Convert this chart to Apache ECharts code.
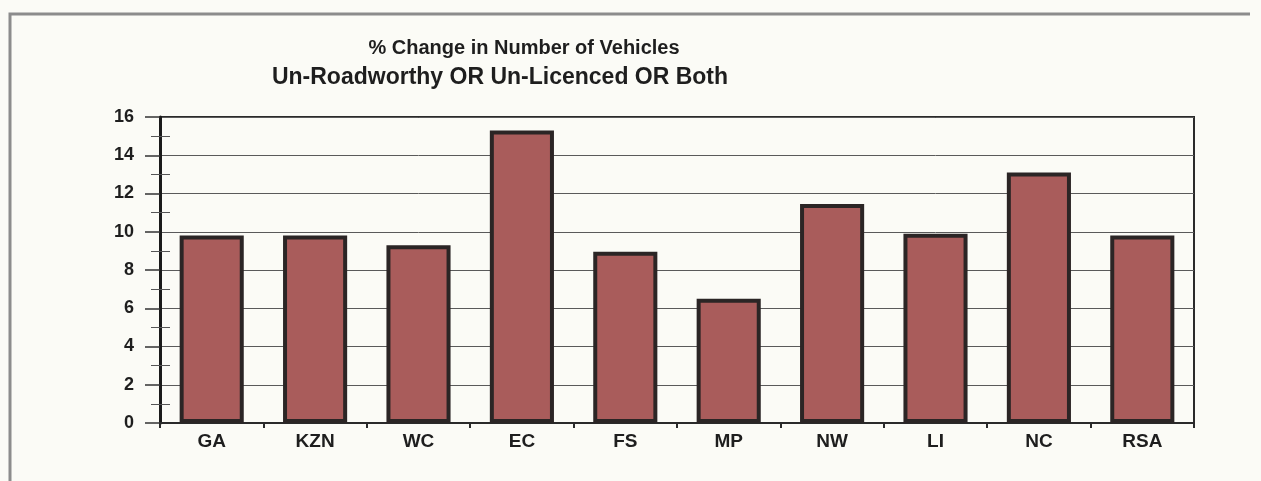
<!DOCTYPE html>
<html>
<head>
<meta charset="utf-8">
<script src="https://cdn.jsdelivr.net/npm/echarts@6/dist/echarts.min.js"></script>
<style>
  html, body { margin: 0; padding: 0; background: #fbfbf6; }
  #chart { width: 1261px; height: 481px; }
</style>
</head>
<body>
<div id="chart"></div>
<script>
// provinces and % change values
var regions = ['GA', 'KZN', 'WC', 'EC', 'FS', 'MP', 'NW', 'LI', 'NC', 'RSA'];
var pctChange = [9.8, 9.8, 9.3, 15.3, 8.95, 6.5, 11.45, 9.9, 13.1, 9.8];
var yMin = 0, yMax = 16, yStep = 2;

var font = '"Liberation Sans", Arial, sans-serif';
var chart = echarts.init(document.getElementById('chart'));

chart.setOption({
  backgroundColor: '#fbfbf6',
  animation: false,
  title: [
    {
      text: '% Change in Number of Vehicles',
      left: 519, top: 33, textAlign: 'center',
      textStyle: { fontFamily: font, fontWeight: 'bold', fontSize: 20, color: '#1e1e1e' }
    },
    {
      text: 'Un-Roadworthy OR Un-Licenced OR Both',
      left: 495, top: 61, textAlign: 'center',
      textStyle: { fontFamily: font, fontWeight: 'bold', fontSize: 23, color: '#1e1e1e' }
    }
  ],
  // scanned frame around the chart
  graphic: [{
    type: 'polyline',
    shape: { points: [[10, 481], [10, 14], [1250, 14]] },
    style: { stroke: '#8c8c8c', lineWidth: 3, fill: null }
  }],
  grid: {
    left: 160, right: 67, top: 117, bottom: 58,
    show: true, borderColor: '#2a2a2a', borderWidth: 2,
    backgroundColor: 'transparent'
  },
  xAxis: {
    type: 'category',
    data: regions,
    axisLine: { lineStyle: { color: '#2a2a2a', width: 2 } },
    axisTick: { show: true, length: 5, lineStyle: { color: '#2a2a2a', width: 2 } },
    axisLabel: { fontFamily: font, fontWeight: 'bold', fontSize: 19, color: '#1e1e1e', margin: 9 }
  },
  yAxis: [
    {
      type: 'value', min: yMin, max: yMax, interval: yStep,
      axisLine: { show: true, lineStyle: { color: '#1a1a1a', width: 3 } },
      axisTick: { show: true, length: 15, lineStyle: { color: '#333', width: 1.5 } },
      minorTick: { show: true, splitNumber: 2, length: 9, lineStyle: { color: '#555', width: 1 } },
      splitLine: { show: true, lineStyle: { color: '#5a5a5a', width: 1 } },
      axisLabel: { fontFamily: font, fontWeight: 'bold', fontSize: 18, color: '#1e1e1e', margin: 26 }
    },
    {
      // second axis on the same spot: minor ticks on the inside
      type: 'value', position: 'left', min: yMin, max: yMax, interval: yStep,
      axisLine: { show: false },
      axisTick: { show: false, inside: true },
      minorTick: { show: true, splitNumber: 2, length: 10, lineStyle: { color: '#555', width: 1 } },
      splitLine: { show: false },
      axisLabel: { show: false }
    }
  ],
  series: [{
    type: 'bar',
    data: pctChange,
    barWidth: '62%',
    itemStyle: { color: '#a95c5b', borderColor: '#2b2525', borderWidth: 4 }
  }]
});
</script>
</body>
</html>
